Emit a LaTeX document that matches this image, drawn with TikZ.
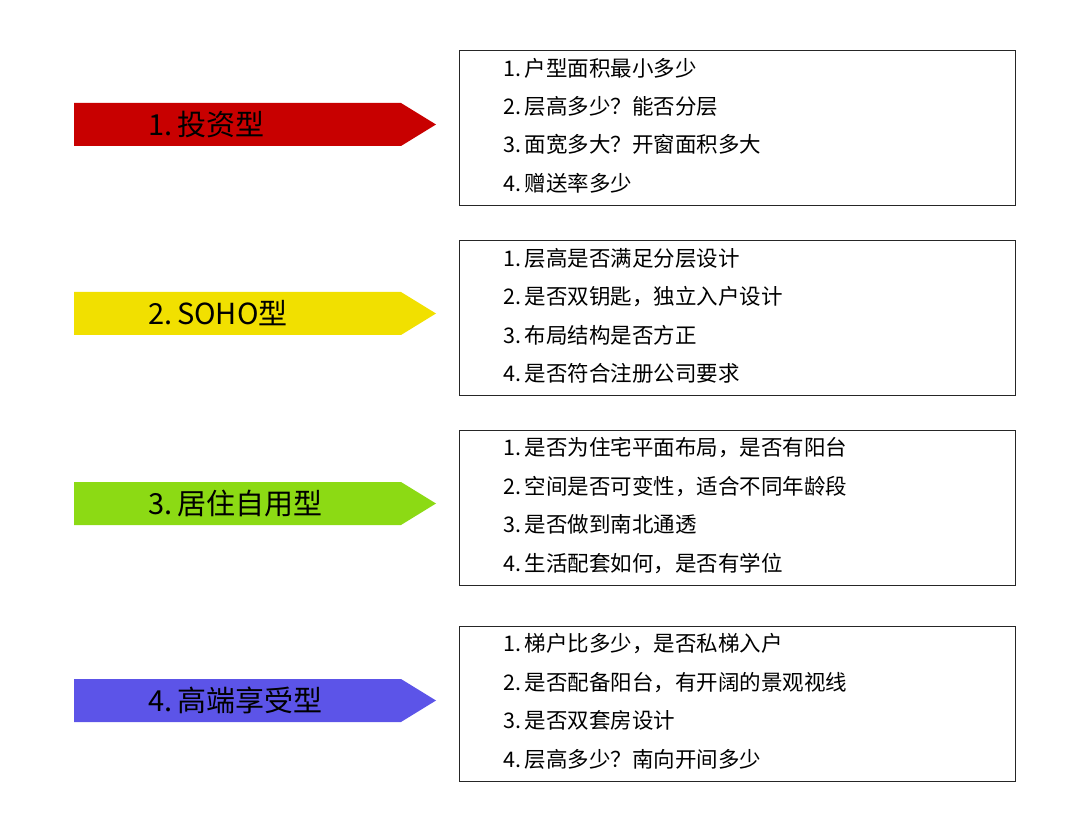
\documentclass[tikz,border=0pt]{standalone}
\usepackage{fontspec}
\setmainfont{Noto Sans CJK SC}
\usetikzlibrary{positioning}

\definecolor{tagred}{RGB}{200,0,0}
\definecolor{tagyellow}{RGB}{241,224,0}
\definecolor{taggreen}{RGB}{140,218,20}
\definecolor{tagblue}{RGB}{92,84,232}

\begin{document}
\begin{tikzpicture}[x=1pt,y=-1pt,
  tag/.style={font=\fontsize{29}{29}\selectfont,anchor=west,inner sep=0pt},
  item/.style={font=\fontsize{21.5}{21.5}\selectfont,anchor=west,inner sep=0pt},
  listbox/.style={draw=black!85,line width=1.2pt,minimum width=556pt,minimum height=155pt,anchor=north west,inner sep=0pt}]
  \useasboundingbox (0,0) rectangle (1080,834);
  % arrow tags on the left
  \foreach \n/\top/\col/\lab in {1/103/tagred/{1.\,投资型},2/292/tagyellow/{2.\,SOHO型},
      3/482/taggreen/{3.\,居住自用型},4/679/tagblue/{4.\,高端享受型}}{
    \fill[\col] (74,\top) -- (401,\top) -- (436,\top+21.5) -- (401,\top+43) -- (74,\top+43) -- cycle;
    \node[tag] (tag\n) at (148,\top+21.5) {\lab};
  }
  % question boxes
  \foreach \n/\top in {1/50,2/240,3/430,4/626}
    \node[listbox] (box\n) at (459,\top) {};
  \foreach \n/\k/\txt in {
      1/1/{1.\,户型面积最小多少},1/2/{2.\,层高多少？能否分层},1/3/{3.\,面宽多大？开窗面积多大},1/4/{4.\,赠送率多少},
      2/1/{1.\,层高是否满足分层设计},2/2/{2.\,是否双钥匙，独立入户设计},2/3/{3.\,布局结构是否方正},2/4/{4.\,是否符合注册公司要求},
      3/1/{1.\,是否为住宅平面布局，是否有阳台},3/2/{2.\,空间是否可变性，适合不同年龄段},3/3/{3.\,是否做到南北通透},3/4/{4.\,生活配套如何，是否有学位},
      4/1/{1.\,梯户比多少，是否私梯入户},4/2/{2.\,是否配备阳台，有开阔的景观视线},4/3/{3.\,是否双套房设计},4/4/{4.\,层高多少？南向开间多少}}
    \node[item] (item\n-\k) at ([xshift=44pt,yshift={-18-38.4*(\k-1)}]box\n.north west) {\txt};
\end{tikzpicture}
\end{document}
